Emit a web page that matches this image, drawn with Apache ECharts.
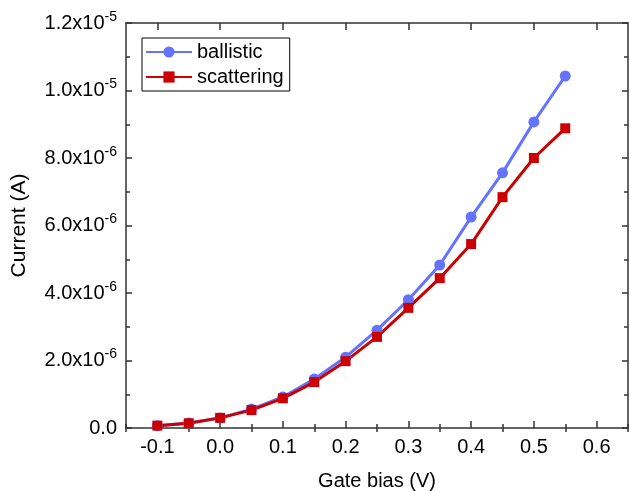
<!DOCTYPE html>
<html><head><meta charset="utf-8">
<script src="https://cdn.jsdelivr.net/npm/echarts@6/dist/echarts.min.js"></script>
<style>html,body{margin:0;padding:0;background:#fff}#c{width:630px;height:491px}</style>
</head><body><div id="c"></div>
<script>
const gateBias = [-0.1,-0.05,0.0,0.05,0.1,0.15,0.2,0.25,0.3,0.35,0.4,0.45,0.5,0.55];
const ballistic = [0.07e-6,0.15e-6,0.30e-6,0.56e-6,0.92e-6,1.45e-6,2.10e-6,2.90e-6,3.80e-6,4.83e-6,6.25e-6,7.56e-6,9.07e-6,10.43e-6];
const scattering = [0.07e-6,0.14e-6,0.30e-6,0.53e-6,0.88e-6,1.36e-6,1.98e-6,2.70e-6,3.56e-6,4.44e-6,5.45e-6,6.84e-6,8.00e-6,8.88e-6];
const xMajorTicks = [-0.1,0.0,0.1,0.2,0.3,0.4,0.5,0.6];
const xMinorTicks = [-0.15,-0.05,0.05,0.15,0.25,0.35,0.45,0.55,0.65];

const FONT = 'Liberation Sans, Arial, sans-serif';
const AXC = '#333';
function yFmt(v){
  if (Math.abs(v) < 1e-12) return '{a|0.0}';
  const s = v.toExponential(1).split('e');
  return '{a|' + s[0] + 'x10}{b|' + parseInt(s[1],10) + '}';
}
function xAx(opts){
  return Object.assign({
    type:'value', min:-0.15, max:0.65,
    axisLine:{show:true,onZero:false,lineStyle:{color:AXC,width:1.5}},
    splitLine:{show:false},
    axisLabel:{show:false},
    axisTick:{show:true,inside:true,length:7,lineStyle:{color:AXC,width:1.5}}
  }, opts);
}
const chart = echarts.init(document.getElementById('c'), null, {renderer:'canvas'});
chart.setOption({
  animation:false,
  textStyle:{fontFamily:FONT},
  grid:{left:126,right:2,top:23,bottom:63,containLabel:false,outerBoundsMode:'none'},
  legend:{
    left:142, top:38, orient:'vertical',
    data:['ballistic','scattering'],
    borderColor:'#000', borderWidth:1, borderRadius:0,
    padding:[4,6,4,3], itemGap:5, itemWidth:46, itemHeight:14,
    textStyle:{fontFamily:FONT,fontSize:20,color:'#000'}
  },
  xAxis:[
    xAx({position:'bottom',
      name:'Gate bias (V)', nameLocation:'middle', nameGap:43,
      nameTextStyle:{fontFamily:FONT,fontSize:20,color:'#000'},
      axisLabel:{show:true,customValues:xMajorTicks,fontFamily:FONT,fontSize:20,color:'#000',margin:9,
        formatter:v=>v.toFixed(1)},
      axisTick:{show:true,inside:true,length:7,customValues:xMajorTicks,lineStyle:{color:AXC,width:1.5}}}),
    xAx({position:'bottom', axisLine:{show:false},
      axisTick:{show:true,inside:true,length:4,customValues:xMinorTicks,lineStyle:{color:AXC,width:1.5}}}),
    xAx({position:'top',
      axisTick:{show:true,inside:true,length:7,customValues:xMajorTicks,lineStyle:{color:AXC,width:1.5}}}),
    xAx({position:'top', axisLine:{show:false},
      axisTick:{show:true,inside:true,length:4,customValues:xMinorTicks,lineStyle:{color:AXC,width:1.5}}})
  ],
  yAxis:[
    {type:'value', min:0, max:1.2e-5, interval:2e-6, position:'left',
      name:'Current (A)', nameLocation:'middle', nameGap:96,
      nameTextStyle:{fontFamily:FONT,fontSize:21,color:'#000'},
      axisLine:{show:true,onZero:false,lineStyle:{color:AXC,width:1.5}},
      splitLine:{show:false},
      axisTick:{show:true,inside:true,length:6,lineStyle:{color:AXC,width:1.5}},
      minorTick:{show:true,splitNumber:2,length:4,lineStyle:{color:AXC,width:1.5}},
      axisLabel:{show:true,margin:9,formatter:yFmt,
        rich:{a:{fontFamily:FONT,fontSize:20,color:'#000'},
              b:{fontFamily:FONT,fontSize:14,color:'#000',verticalAlign:'top',padding:[0,0,12,0]}}}},
    {type:'value', min:0, max:1.2e-5, interval:2e-6, position:'right',
      axisLine:{show:true,onZero:false,lineStyle:{color:AXC,width:1.5}},
      splitLine:{show:false}, axisLabel:{show:false},
      axisTick:{show:true,inside:true,length:6,lineStyle:{color:AXC,width:1.5}},
      minorTick:{show:true,splitNumber:2,length:4,lineStyle:{color:AXC,width:1.5}}}
  ],
  series:[
    {name:'ballistic', type:'line', xAxisIndex:0, yAxisIndex:0,
      data:gateBias.map((x,i)=>[x,ballistic[i]]),
      symbol:'circle', symbolSize:11,
      itemStyle:{color:'#6373ff'}, lineStyle:{color:'#6373ff',width:3}},
    {name:'scattering', type:'line', xAxisIndex:0, yAxisIndex:0,
      data:gateBias.map((x,i)=>[x,scattering[i]]),
      symbol:'rect', symbolSize:10,
      itemStyle:{color:'#cc0000'}, lineStyle:{color:'#cc0000',width:3}}
  ]
});
</script></body></html>
